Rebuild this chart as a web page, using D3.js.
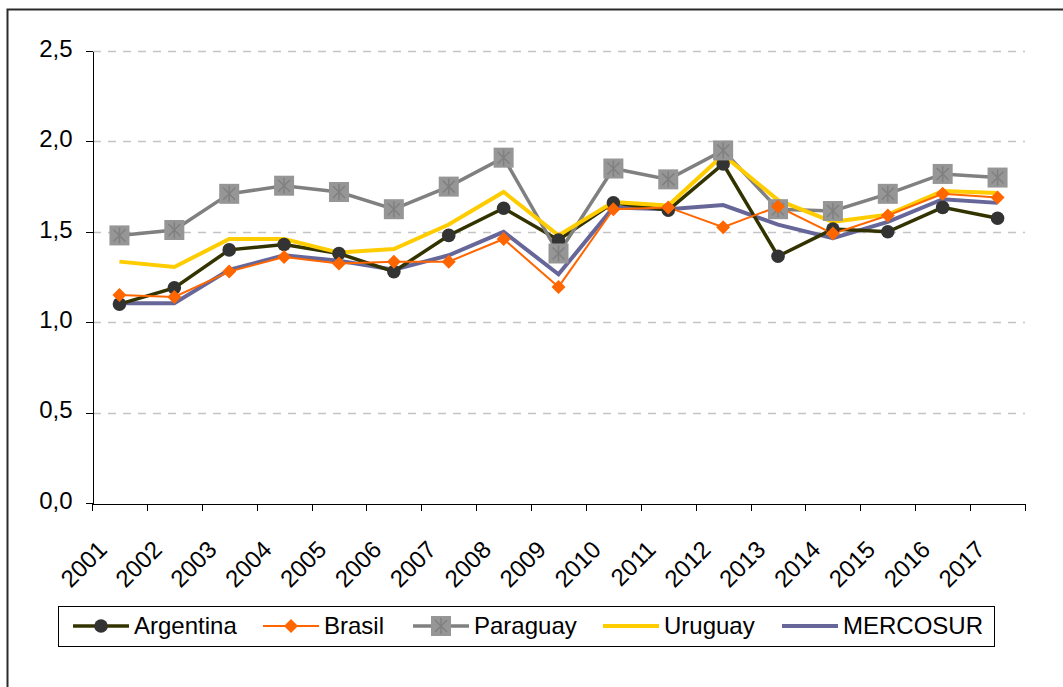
<!DOCTYPE html>
<html>
<head>
<meta charset="utf-8">
<script src="https://cdn.jsdelivr.net/npm/d3@7"></script>
<style>
body { margin: 0; background: #fff; }
svg { display: block; font-family: Arial, "Liberation Sans", sans-serif; }
.axis path, .axis line { stroke: #000; shape-rendering: crispEdges; }
.axis text { font-family: Arial, "Liberation Sans", sans-serif; fill: #000; }
</style>
</head>
<body>
<div id="chart"></div>
<script>
// categories and series
var years = ["2001","2002","2003","2004","2005","2006","2007","2008","2009",
	"2010","2011","2012","2013","2014","2015","2016","2017"];
var argentina = [1.10,1.19,1.40,1.43,1.38,1.28,1.48,1.63,1.455,1.66,1.62,1.875,1.365,1.515,1.50,1.635,1.575];
var brasil    = [1.15,1.14,1.28,1.36,1.325,1.335,1.335,1.46,1.195,1.625,1.635,1.525,1.64,1.49,1.59,1.71,1.69];
var paraguay  = [1.48,1.51,1.71,1.755,1.72,1.625,1.75,1.91,1.38,1.85,1.79,1.95,1.625,1.615,1.71,1.82,1.80];
var uruguay   = [1.335,1.305,1.46,1.46,1.385,1.405,1.54,1.72,1.48,1.665,1.645,1.925,1.675,1.555,1.595,1.725,1.715];
var mercosur  = [1.105,1.105,1.29,1.37,1.34,1.29,1.37,1.50,1.265,1.635,1.625,1.648,1.54,1.465,1.555,1.68,1.66];
var yTicks = [0, 0.5, 1, 1.5, 2, 2.5];

var width = 1063, height = 687;
var plot = {left: 92, right: 1025, top: 51, bottom: 503};

var svg = d3.select("#chart").append("svg")
	.attr("width", width)
	.attr("height", height);

//outer frame
svg.append("rect")
	.attr("x", 7.5).attr("y", 9.5)
	.attr("width", width).attr("height", height)
	.attr("fill", "none")
	.attr("stroke", "#2a2a2a")
	.attr("stroke-width", 2);

var x = d3.scaleBand().domain(years).range([plot.left, plot.right]);
var xEdge = d3.scaleLinear().domain([0, years.length]).range([plot.left, plot.right]);
var y = d3.scaleLinear().domain([0, 2.5]).range([plot.bottom, plot.top]);

//dashed gridlines
svg.append("g")
	.selectAll("line")
	.data(yTicks.filter(function(d){return d > 0;}))
	.enter().append("line")
	.attr("x1", plot.left + 1).attr("x2", plot.right)
	.attr("y1", function(d){return Math.round(y(d)) + 0.5;})
	.attr("y2", function(d){return Math.round(y(d)) + 0.5;})
	.attr("stroke", "#c4c4c4")
	.attr("stroke-width", 1.5)
	.attr("stroke-dasharray", "8,7");

//y axis
var yAxis = svg.append("g")
	.attr("class", "axis")
	.attr("transform", "translate(" + (plot.left + 0.5) + ",0)")
	.call(d3.axisLeft(y).tickValues(yTicks).tickSize(7).tickSizeOuter(0).tickPadding(13)
		.tickFormat(function(d){return d3.format(".1f")(d).replace(".", ",");}));
yAxis.selectAll("text").style("font-size", "24px").attr("dy", "0.22em");

//x axis, ticks sit between categories
var xAxis = svg.append("g")
	.attr("class", "axis")
	.attr("transform", "translate(0," + (plot.bottom + 0.5) + ")")
	.call(d3.axisBottom(xEdge).tickValues(d3.range(years.length + 1)).tickSize(7)
		.tickSizeOuter(0).tickFormat(""));

svg.append("g")
	.selectAll("text")
	.data(years)
	.enter().append("text")
	.attr("transform", function(d) {
		return "translate(" + (x(d) + x.bandwidth() / 2 - 11) + "," + (plot.bottom + 48) + ") rotate(-45)";
	})
	.attr("text-anchor", "end")
	.style("font-size", "24px")
	.text(function(d){return d;});

//series
var series = [
	{name: "MERCOSUR", values: mercosur, color: "#666699", width: 4, marker: null},
	{name: "Argentina", values: argentina, color: "#333300", width: 3.5, marker: "circle"},
	{name: "Paraguay", values: paraguay, color: "#808080", width: 3.5, marker: "square"},
	{name: "Uruguay", values: uruguay, color: "#ffcc00", width: 4, marker: null},
	{name: "Brasil", values: brasil, color: "#ff6600", width: 2, marker: "diamond"}
];
var legendOrder = ["Argentina", "Brasil", "Paraguay", "Uruguay", "MERCOSUR"];

var line = d3.line()
	.x(function(d, i){return x(years[i]) + x.bandwidth() / 2;})
	.y(function(d){return y(d);});

svg.append("g")
	.selectAll("path")
	.data(series)
	.enter().append("path")
	.attr("d", function(s){return line(s.values);})
	.attr("fill", "none")
	.attr("stroke", function(s){return s.color;})
	.attr("stroke-width", function(s){return s.width;})
	.attr("stroke-linejoin", "miter");

function drawMarker(g, type, cx, cy, scale) {
	scale = scale || 1;
	if (type == "circle") {
		g.append("circle").attr("cx", cx).attr("cy", cy).attr("r", 6.8 * scale)
			.attr("fill", "#333333");
	}
	else if (type == "diamond") {
		var h = 7 * scale;
		g.append("path")
			.attr("d", "M" + cx + "," + (cy - h) + "L" + (cx + h) + "," + cy + "L" + cx + "," + (cy + h) + "L" + (cx - h) + "," + cy + "Z")
			.attr("fill", "#ff6600");
	}
	else if (type == "square") {
		var s = 10 * scale;
		g.append("rect").attr("x", cx - s).attr("y", cy - s).attr("width", 2 * s).attr("height", 2 * s)
			.attr("fill", "#969696");
		var a = 6 * scale;
		g.append("path")
			.attr("d", "M" + (cx - a) + "," + (cy - a) + "L" + (cx + a) + "," + (cy + a) +
				"M" + (cx + a) + "," + (cy - a) + "L" + (cx - a) + "," + (cy + a) +
				"M" + cx + "," + (cy - s + 2) + "L" + cx + "," + (cy + s - 2))
			.attr("stroke", "#808080")
			.attr("stroke-width", 1.5)
			.attr("fill", "none");
	}
}

var markers = svg.append("g");
["Argentina", "Paraguay", "Brasil"].forEach(function(name) {
	var s = series.filter(function(d){return d.name == name;})[0];
	s.values.forEach(function(v, i) {
		drawMarker(markers, s.marker, x(years[i]) + x.bandwidth() / 2, y(v));
	});
});

//legend
var legendX = [73, 263, 413, 603, 782];
var legend = svg.append("g");
legend.append("rect")
	.attr("x", 58.5).attr("y", 606.5)
	.attr("width", 936).attr("height", 40)
	.attr("fill", "#fff")
	.attr("stroke", "#000")
	.attr("stroke-width", 1);
legendOrder.forEach(function(name, i) {
	var s = series.filter(function(d){return d.name == name;})[0];
	var lx = legendX[i], ly = 626;
	legend.append("line")
		.attr("x1", lx).attr("x2", lx + 56)
		.attr("y1", ly).attr("y2", ly)
		.attr("stroke", s.color)
		.attr("stroke-width", s.width);
	if (s.marker) drawMarker(legend, s.marker, lx + 28, ly);
	legend.append("text")
		.attr("x", lx + 61)
		.attr("y", ly + 8)
		.style("font-size", "24px")
		.text(name);
});
</script>
</body>
</html>
